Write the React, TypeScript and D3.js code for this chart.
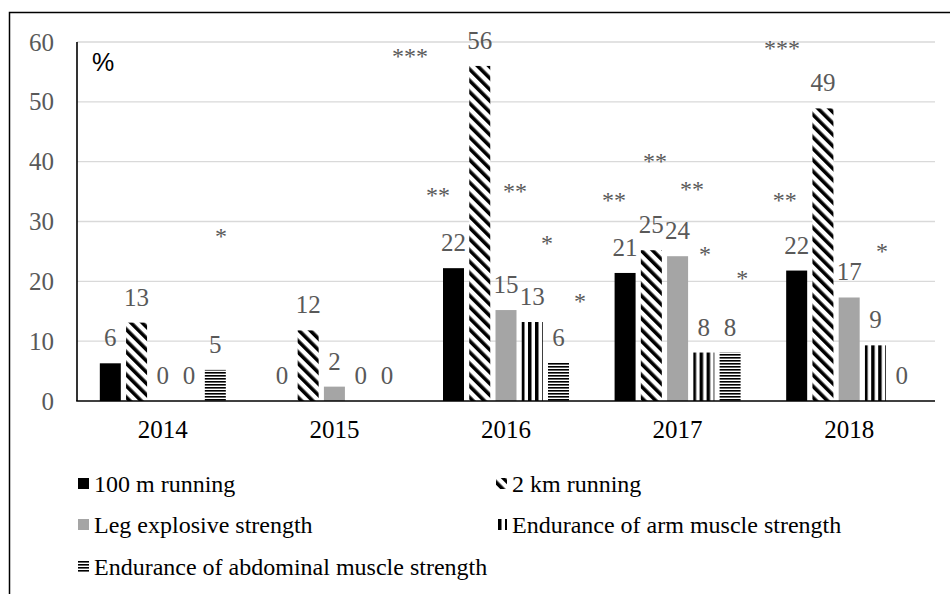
import * as d3 from 'd3'

const years = ['2014', '2015', '2016', '2017', '2018']
const seriesNames = [
  '100 m running',
  '2 km running',
  'Leg explosive strength',
  'Endurance of arm muscle strength',
  'Endurance of abdominal muscle strength',
]

// values (labels are rounded)
const run100 = [6.3, 0, 22.2, 21.4, 21.8]
const run2k = [13.1, 11.8, 56, 25.2, 48.9]
const legStrength = [0, 2.4, 15.2, 24.2, 17.3]
const armEndurance = [0, 0, 13.2, 8.1, 9.3]
const abdEndurance = [5.2, 0, 6.4, 8.1, 0]

const yTicks = [0, 10, 20, 30, 40, 50, 60]

// significance marks: year, position in bar slots from the group start, level (%)
const starYear = ['2014', '2016', '2016', '2016', '2016', '2016', '2017', '2017', '2017', '2017', '2017', '2018', '2018', '2018']
const starSlot = [4.62, -1.26, -0.19, 2.74, 3.96, 5.22, -0.02, 1.54, 2.95, 3.44, 4.86, -0.16, -0.05, 3.65]
const starLevel = [28.1, 58.2, 34.9, 35.6, 26.9, 17.2, 34.1, 40.6, 35.9, 25.1, 21.1, 59.5, 34.1, 25.6]
const starText = ['*', '***', '**', '**', '*', '*', '**', '**', '**', '*', '*', '***', '**', '*']

const seriesValues = [run100, run2k, legStrength, armEndurance, abdEndurance]
const fills = ['#000000', 'url(#diag)', '#a5a5a5', 'url(#vert)', 'url(#horiz)']

const serif = '"Liberation Serif", "Times New Roman", serif'
const labelGray = '#595959'

export default function App() {
  const width = 950
  const height = 594

  const y = d3.scaleLinear().domain([0, 60]).range([401, 42])
  const x0 = d3
    .scaleBand<string>()
    .domain(years)
    .range([77, 935])
    .paddingInner(0.2657)
    .paddingOuter(0.133)
  const x1 = d3
    .scaleBand<string>()
    .domain(seriesNames)
    .range([0, x0.bandwidth()])
    .paddingInner(0.2)
  const fmt = d3.format('.0f')

  const legendRows = [
    [0, 1],
    [2, 3],
    [4],
  ]
  const legendCols = [78, 496]
  const legendBase = [492, 533, 575]

  return (
    <svg
      width={width}
      height={height}
      style={{ position: 'absolute', left: 0, top: 0, background: '#fff' }}
    >
      <defs>
        <pattern
          id="diag"
          patternUnits="userSpaceOnUse"
          width={8}
          height={8}
          patternTransform="rotate(-45)"
        >
          <rect width={8} height={8} fill="#fff" />
          <rect x={0} width={3.6} height={8} fill="#000" />
        </pattern>
        <pattern id="vert" patternUnits="userSpaceOnUse" width={7} height={7} x={1}>
          <rect width={7} height={7} fill="#fff" />
          <rect x={0} width={3.5} height={7} fill="#000" />
        </pattern>
        <pattern id="horiz" patternUnits="userSpaceOnUse" width={3} height={3}>
          <rect width={3} height={3} fill="#fff" />
          <rect y={0} width={3} height={1.6} fill="#000" />
        </pattern>
      </defs>

      <rect x={9.5} y={12.5} width={960} height={620} fill="none" stroke="#000" strokeWidth={1.5} />

      {/* gridlines */}
      {yTicks.slice(1).map((t) => (
        <line
          key={t}
          x1={77}
          x2={935}
          y1={y(t)}
          y2={y(t)}
          stroke="#d9d9d9"
          strokeWidth={1.3}
        />
      ))}

      {/* bars */}
      {years.map((yr, i) => (
        <g key={yr} transform={`translate(${x0(yr)},0)`}>
          {seriesNames.map((s, j) => {
            const v = seriesValues[j][i]
            return (
              <rect
                key={s}
                x={x1(s) || 0}
                y={y(v)}
                width={x1.bandwidth()}
                height={y(0) - y(v)}
                fill={fills[j]}
              />
            )
          })}
        </g>
      ))}

      {/* axes lines */}
      <line x1={77} x2={77} y1={y(60)} y2={y(0)} stroke="#000" strokeWidth={1.6} />
      <line x1={76.2} x2={935} y1={y(0)} y2={y(0)} stroke="#000" strokeWidth={1.6} />

      {/* all text in a layer, so it is drawn with grey antialiasing */}
      <g opacity={0.999}>
        {yTicks.map((t) => (
          <text
            key={t}
            x={54}
            y={y(t) + 8.5}
            textAnchor="end"
            fontFamily={serif}
            fontSize={25}
            fill={labelGray}
          >
            {t}
          </text>
        ))}

        <text x={92} y={71} fontFamily='"Liberation Sans", Arial, sans-serif' fontSize={25} fill="#000">
          %
        </text>

        {/* data labels */}
        {years.map((yr, i) =>
          seriesNames.map((s, j) => {
            const v = seriesValues[j][i]
            return (
              <text
                key={yr + s}
                x={(x0(yr) || 0) + (x1(s) || 0) + x1.bandwidth() / 2}
                y={y(v) - 17}
                textAnchor="middle"
                fontFamily={serif}
                fontSize={25}
                fill={labelGray}
              >
                {fmt(v)}
              </text>
            )
          }),
        )}

        {/* significance marks */}
        {starText.map((t, k) => (
          <text
            key={k}
            x={(x0(starYear[k]) || 0) + starSlot[k] * x1.step()}
            y={y(starLevel[k]) + 11}
            textAnchor="middle"
            fontFamily={serif}
            fontSize={24}
            fill={labelGray}
          >
            {t}
          </text>
        ))}

        {/* category labels */}
        {years.map((yr) => (
          <text
            key={yr}
            x={(x0(yr) || 0) + x0.bandwidth() / 2}
            y={438}
            textAnchor="middle"
            fontFamily={serif}
            fontSize={25}
            fill="#000"
          >
            {yr}
          </text>
        ))}
      </g>

      {/* legend */}
      {legendRows.map((row, r) =>
        row.map((j, c) => (
          <g key={j}>
            <rect
              x={legendCols[c]}
              y={legendBase[r] - 14}
              width={11}
              height={11}
              fill={fills[j]}
            />
            <text
              x={legendCols[c] + 16}
              y={legendBase[r]}
              fontFamily={serif}
              fontSize={24}
              fill="#000"
            >
              {seriesNames[j]}
            </text>
          </g>
        )),
      )}
    </svg>
  )
}
